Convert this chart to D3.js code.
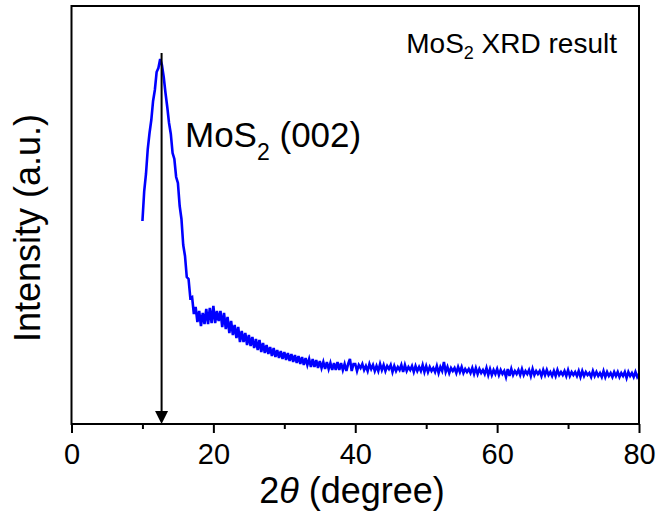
<!DOCTYPE html>
<html>
<head>
<meta charset="utf-8">
<script src="https://cdn.jsdelivr.net/npm/d3@7"></script>
<style>
    body { margin: 0; background: #fff; }
    text { font-family: "Liberation Sans", Arial, sans-serif; fill: #000; }
</style>
</head>
<body>
<div id="chart"></div>
<script>
// XRD scan, 2theta from 10 to 80 deg, step 0.25 deg
const startAngle = 10;
const stepAngle = 0.25;
const intensity = [
    203, 233, 250, 275,   // 10
    291, 304, 323, 334,   // 11
    352, 356, 365, 359,   // 12
    347, 331, 317, 301,   // 13
    290, 271, 265, 247,   // 14
    241, 218, 205, 179,   // 15
    168, 147, 145, 126,   // 16
    127, 110, 117, 102,   // 17
    113, 98, 111, 100,    // 18
    115, 100, 116, 101,   // 19
    118, 101, 113, 103,   // 20
    113, 97, 111, 95,     // 21
    107, 91, 103, 89,     // 22
    99, 86, 97, 82,       // 23
    93, 82, 91, 79,       // 24
    89, 78, 87, 76,       // 25
    85, 74, 84, 72,       // 26
    81, 71, 79, 70,       // 27
    77, 68, 76, 67,       // 28
    74, 66, 73, 65,       // 29
    72, 64, 71, 63,       // 30
    70, 62, 69, 61,       // 31
    68, 60, 67, 59,       // 32
    66, 59, 65, 57,       // 33
    65, 57, 64, 56,       // 34
    63, 56, 62, 55,       // 35
    62, 55, 61, 54,       // 36
    61, 54, 62, 54,       // 37
    61, 54, 60, 53,       // 38
    60, 65, 53, 60,       // 39
    60, 53, 59, 56,       // 40
    60, 54, 58, 53,       // 41
    60, 55, 59, 53,       // 42
    58, 53, 60, 54,       // 43
    59, 53, 58, 55,       // 44
    59, 52, 58, 53,       // 45
    57, 54, 59, 52,       // 46
    59, 53, 57, 54,       // 47
    58, 52, 58, 53,       // 48
    57, 53, 59, 52,       // 49
    58, 52, 57, 53,       // 50
    56, 52, 58, 51,       // 51
    57, 53, 62, 52,       // 52
    57, 51, 56, 53,       // 53
    56, 51, 57, 52,       // 54
    57, 51, 55, 52,       // 55
    55, 51, 56, 50,       // 56
    56, 50, 55, 51,       // 57
    54, 50, 56, 49,       // 58
    55, 49, 54, 50,       // 59
    55, 49, 54, 50,       // 60
    53, 47, 55, 48,       // 61
    55, 49, 53, 50,       // 62
    54, 49, 55, 49,       // 63
    53, 50, 54, 48,       // 64
    55, 49, 53, 50,       // 65
    53, 48, 54, 49,       // 66
    54, 49, 52, 48,       // 67
    53, 48, 54, 49,       // 68
    52, 49, 53, 48,       // 69
    54, 48, 52, 49,       // 70
    52, 48, 53, 47,       // 71
    53, 48, 52, 49,       // 72
    51, 47, 53, 48,       // 73
    52, 48, 51, 47,       // 74
    53, 47, 52, 48,       // 75
    51, 47, 52, 48,       // 76
    52, 47, 51, 48,       // 77
    52, 46, 52, 48,       // 78
    51, 47, 52, 47,       // 79
    50                    // 80
];
const majorTicks = [0, 20, 40, 60, 80];
const minorTicks = [10, 30, 50, 70];
const peakAngle = 12.7;     // (002) reflection
const arrowTop = 371;
const labelAngle = 16;
const labelIntensity = 277;

const config = {
    width: 658,
    height: 513,
    margin: { top: 6, left: 71.5, right: 19, bottom: 89 },
    lineColor: '#0000ff',
    lineWidth: 2.6,
    fontFamily: '"Liberation Sans", Arial, sans-serif',
};

const svg = d3.select("#chart")
    .append("svg")
    .attr("width", config.width)
    .attr("height", config.height);

const scale_x = d3.scaleLinear()
    .domain([0, 80])
    .range([config.margin.left, config.width - config.margin.right]);
const scale_y = d3.scaleLinear()
    .domain([0, 418])
    .range([config.height - config.margin.bottom, config.margin.top]);

const data = intensity.map((v, i) => ({ angle: startAngle + i * stepAngle, value: v }));

// curve
const line = d3.line()
    .x(d => scale_x(d.angle))
    .y(d => scale_y(d.value));
svg.append("path")
    .datum(data)
    .attr("fill", "none")
    .attr("stroke", config.lineColor)
    .attr("stroke-width", config.lineWidth)
    .attr("d", line);

// arrow at the peak
const ax = scale_x(peakAngle);
const y0 = scale_y(0);
svg.append("line")
    .attr("x1", ax).attr("x2", ax)
    .attr("y1", scale_y(arrowTop)).attr("y2", y0 - 10)
    .attr("stroke", "#000")
    .attr("stroke-width", 2);
svg.append("path")
    .attr("d", `M${ax - 6.5},${y0 - 13}L${ax + 6.5},${y0 - 13}L${ax},${y0}Z`)
    .attr("fill", "#000");

// axes
const g_axisX = svg.append("g")
    .attr("transform", `translate(0, ${y0})`);
g_axisX.call(d3.axisBottom(scale_x)
    .tickValues(majorTicks)
    .tickSize(9)
    .tickSizeOuter(0)
    .tickPadding(10)
    .tickFormat(d3.format("d")));
g_axisX.select(".domain").remove();
g_axisX.selectAll(".tick line").attr("stroke-width", 2);
g_axisX.selectAll("text")
    .style("font-size", "29px")
    .style("font-family", config.fontFamily);

const g_minor = svg.append("g")
    .attr("transform", `translate(0, ${y0})`);
g_minor.call(d3.axisBottom(scale_x)
    .tickValues(minorTicks)
    .tickSize(5)
    .tickSizeOuter(0)
    .tickFormat(""));
g_minor.select(".domain").remove();
g_minor.selectAll(".tick line").attr("stroke-width", 2);

// frame
svg.append("rect")
    .attr("x", scale_x(0))
    .attr("y", scale_y(418))
    .attr("width", scale_x(80) - scale_x(0))
    .attr("height", y0 - scale_y(418))
    .attr("fill", "none")
    .attr("stroke", "#000")
    .attr("stroke-width", 2);

// axis titles
const xt = svg.append("text")
    .attr("x", 352)
    .attr("y", 503)
    .attr("text-anchor", "middle")
    .style("font-size", "36px");
xt.append("tspan").text("2");
xt.append("tspan").style("font-style", "italic").text("θ");
xt.append("tspan").text(" (degree)");

svg.append("text")
    .attr("transform", "translate(39.5, 228) rotate(-90)")
    .attr("text-anchor", "middle")
    .style("font-size", "36px")
    .text("Intensity (a.u.)");

// peak label
const pl = svg.append("text")
    .attr("x", scale_x(labelAngle))
    .attr("y", scale_y(labelIntensity))
    .style("font-size", "35px");
pl.append("tspan").text("MoS");
pl.append("tspan").attr("dy", 13).style("font-size", "23px").text("2");
pl.append("tspan").attr("dy", -13).text(" (002)");

// title in corner
const tt = svg.append("text")
    .attr("x", 617)
    .attr("y", 53)
    .attr("text-anchor", "end")
    .style("font-size", "28px");
tt.append("tspan").text("MoS");
tt.append("tspan").attr("dy", 6).style("font-size", "18px").text("2");
tt.append("tspan").attr("dy", -6).text(" XRD result");
</script>
</body>
</html>
